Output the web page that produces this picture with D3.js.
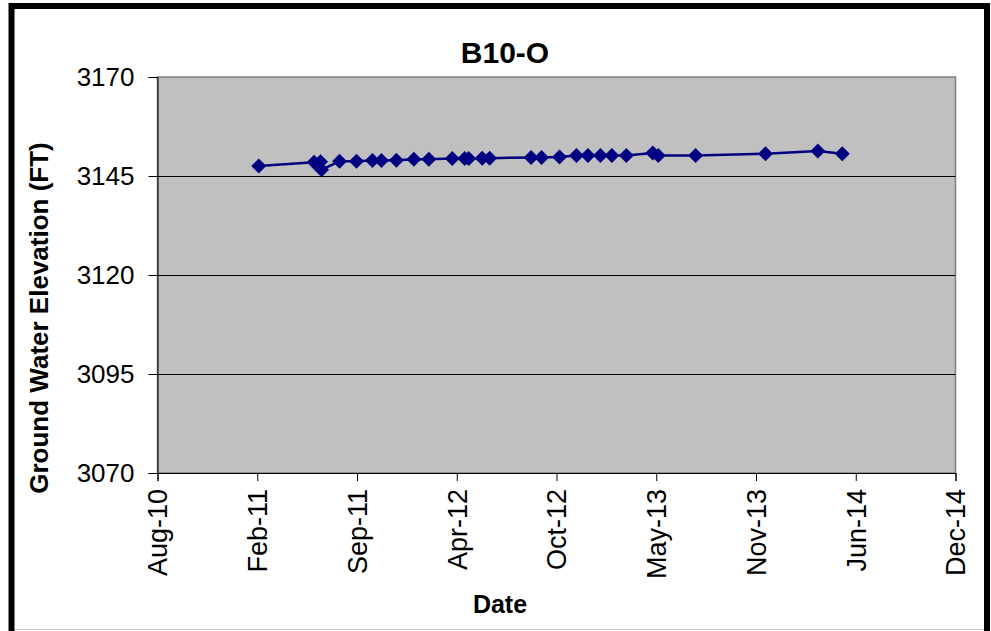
<!DOCTYPE html>
<html>
<head>
<meta charset="utf-8">
<script src="https://cdn.jsdelivr.net/npm/d3@7"></script>
<style>
  html, body { margin: 0; padding: 0; background: #fff; }
  svg { display: block; }
  text { font-family: "Liberation Sans", Arial, sans-serif; }
</style>
</head>
<body>
<svg id="chart" width="991" height="631"></svg>
<script>
// ---- data ----
const title = "B10-O";
const xAxisTitle = "Date";
const yAxisTitle = "Ground Water Elevation (FT)";
const dates = [
  "2011-03-01","2011-06-20","2011-07-03","2011-07-05","2011-08-10","2011-09-13",
  "2011-10-15","2011-11-02","2011-12-02","2012-01-06","2012-02-05","2012-03-23",
  "2012-04-17","2012-04-25","2012-05-22","2012-06-06","2012-08-28","2012-09-18",
  "2012-10-24","2012-11-27","2012-12-20","2013-01-14","2013-02-06","2013-03-07",
  "2013-04-29","2013-05-10","2013-07-24","2013-12-11","2014-03-26","2014-05-14"
];
const elevations = [
  3147.5, 3148.5, 3148.6, 3146.6, 3148.7, 3148.7,
  3148.9, 3148.9, 3149.0, 3149.2, 3149.2, 3149.4,
  3149.4, 3149.4, 3149.5, 3149.5, 3149.7, 3149.7,
  3149.8, 3150.2, 3150.2, 3150.2, 3150.2, 3150.2,
  3150.8, 3150.2, 3150.2, 3150.6, 3151.3, 3150.6
];
const xTickDates = ["2010-08-10","2011-02-26","2011-09-14","2012-04-01","2012-10-18",
                    "2013-05-06","2013-11-22","2014-06-10","2014-12-27"];
const yTicks = [3070, 3095, 3120, 3145, 3170];
const yDomain = [3070, 3170];

// ---- layout ----
const parse = d3.utcParse("%Y-%m-%d");
const fmt = d3.utcFormat("%b-%y");
const pl = 157.5, pr = 955.5, pt = 77, pb = 473;

const svg = d3.select("#chart");

// outer frame
svg.append("rect").attr("x", 11.5).attr("y", 6).attr("width", 975.5).attr("height", 640)
  .attr("fill", "#fff").attr("stroke", "#000").attr("stroke-width", 6);
svg.append("line").attr("x1", 15).attr("x2", 984).attr("y1", 629.5).attr("y2", 629.5)
  .attr("stroke", "#c8c8c8").attr("stroke-width", 1);

const x = d3.scaleUtc().domain([parse(xTickDates[0]), parse(xTickDates[xTickDates.length - 1])]).range([pl, pr]);
const y = d3.scaleLinear().domain(yDomain).range([pb, pt]);

// plot area
svg.append("rect").attr("x", pl).attr("y", pt).attr("width", pr - pl).attr("height", pb - pt)
  .attr("fill", "#C0C0C0").attr("stroke", "#808080").attr("stroke-width", 1.5);

// gridlines
svg.append("g").selectAll("line").data(yTicks.filter(v => v > yDomain[0] && v < yDomain[1]))
  .join("line")
  .attr("x1", pl).attr("x2", pr)
  .attr("y1", d => Math.round(y(d)) + 0.5).attr("y2", d => Math.round(y(d)) + 0.5)
  .attr("stroke", "#000").attr("stroke-width", 1);

// y axis
const yAxis = svg.append("g").attr("transform", `translate(${pl},0)`)
  .call(d3.axisLeft(y).tickValues(yTicks).tickSize(9).tickPadding(14).tickFormat(d3.format("d")));
yAxis.select(".domain").attr("stroke", "#000").attr("stroke-width", 1);
yAxis.selectAll(".tick line").attr("stroke", "#000");
yAxis.selectAll("text").attr("font-size", 26).attr("fill", "#000")
  .attr("font-family", "Liberation Sans, Arial, sans-serif");

// x axis
const xAxis = svg.append("g").attr("transform", `translate(0,${pb})`)
  .call(d3.axisBottom(x).tickValues(xTickDates.map(parse)).tickSize(8).tickFormat(fmt));
xAxis.select(".domain").attr("stroke", "#000").attr("stroke-width", 1);
xAxis.selectAll(".tick line").attr("stroke", "#000");
xAxis.selectAll("text")
  .attr("font-size", 27).attr("fill", "#000")
  .attr("font-family", "Liberation Sans, Arial, sans-serif")
  .attr("transform", "rotate(-90)")
  .attr("text-anchor", "end")
  .attr("x", -16).attr("y", 0).attr("dy", "0.35em");

// series
const pts = dates.map((d, i) => ({ date: parse(d), v: elevations[i] }));
svg.append("path").datum(pts)
  .attr("fill", "none").attr("stroke", "#000080").attr("stroke-width", 2.5)
  .attr("d", d3.line().x(d => x(d.date)).y(d => y(d.v)));
svg.append("g").selectAll("path").data(pts).join("path")
  .attr("transform", d => `translate(${x(d.date)},${y(d.v)})`)
  .attr("d", "M0,-7.5L7.5,0L0,7.5L-7.5,0Z")
  .attr("fill", "#000080");

// titles
svg.append("text").attr("x", 505).attr("y", 63).attr("text-anchor", "middle")
  .attr("font-size", 30).attr("font-weight", "bold").text(title);
svg.append("text").attr("x", 500).attr("y", 613).attr("text-anchor", "middle")
  .attr("font-size", 25).attr("font-weight", "bold").text(xAxisTitle);
svg.append("text").attr("transform", "translate(48,318) rotate(-90)").attr("text-anchor", "middle")
  .attr("font-size", 26).attr("font-weight", "bold").text(yAxisTitle);
</script>
</body>
</html>
